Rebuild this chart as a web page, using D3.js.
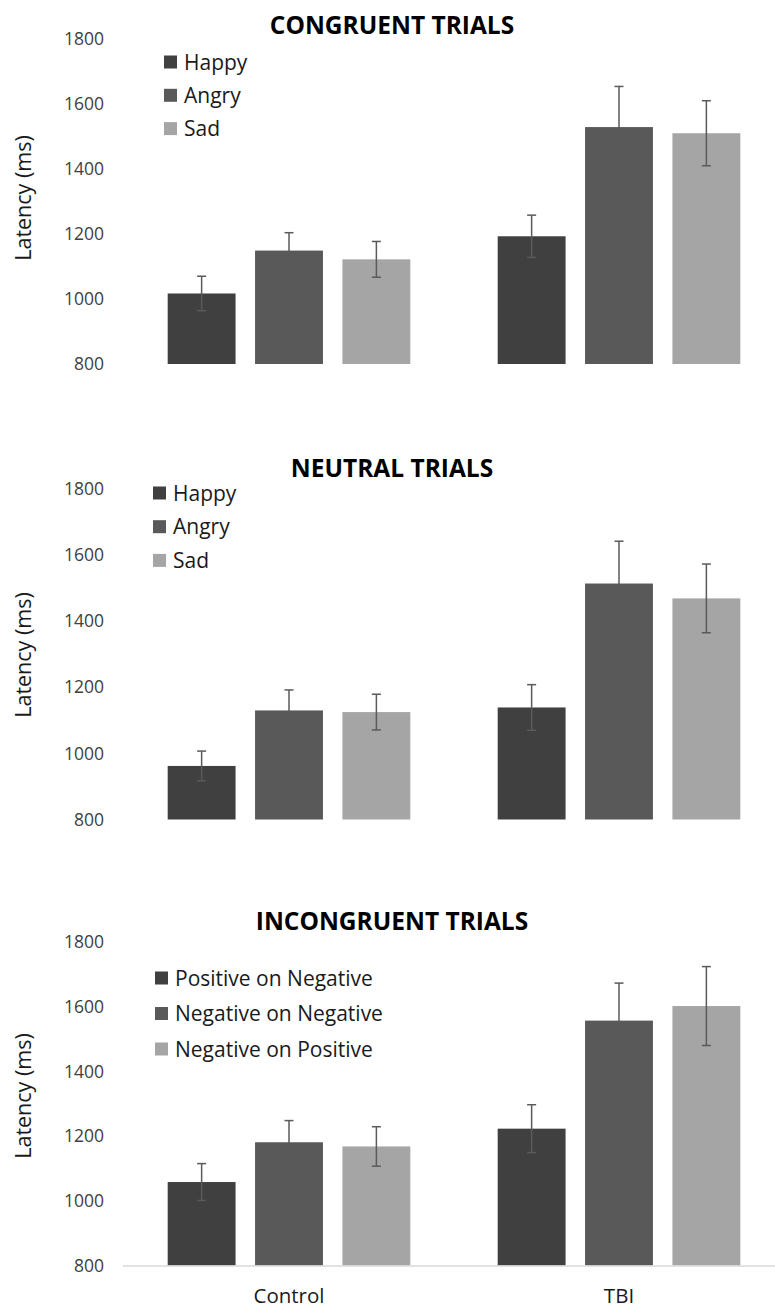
<!DOCTYPE html>
<html>
<head>
<meta charset="utf-8">
<script src="https://cdn.jsdelivr.net/npm/d3@7"></script>
<style>
  body { margin: 0; background: #fff; }
  text { font-family: "Open Sans", sans-serif; }
</style>
</head>
<body>
<div id="chart"></div>
<script>
// data (ms)
var groups = ["Control", "TBI"];
var yTicks = [800, 1000, 1200, 1400, 1600, 1800];

var congruentTitle = "CONGRUENT TRIALS";
var congruentSeries = ["Happy", "Angry", "Sad"];
var congruentMeans = [[1017, 1149, 1122], [1193, 1529, 1510]];
var congruentErr = [[53, 55, 55], [65, 125, 100]];

var neutralTitle = "NEUTRAL TRIALS";
var neutralSeries = ["Happy", "Angry", "Sad"];
var neutralMeans = [[962, 1130, 1125], [1139, 1514, 1469]];
var neutralErr = [[45, 62, 54], [69, 128, 104]];

var incongruentTitle = "INCONGRUENT TRIALS";
var incongruentSeries = ["Positive on Negative", "Negative on Negative", "Negative on Positive"];
var incongruentMeans = [[1058, 1181, 1168], [1223, 1557, 1602]];
var incongruentErr = [[57, 67, 61], [74, 116, 122]];

var colors = ["#404040", "#595959", "#a5a5a5"];

var width = 775, height = 1308;
var svg = d3.select("#chart").append("svg")
    .attr("width", width)
    .attr("height", height);

// one entry per panel, layout kept here
var panels = [
  {title: congruentTitle, series: congruentSeries, means: congruentMeans, err: congruentErr,
   y0: 364, y1: 39, titleY: 34, labelY: 198, legX: 164, legY: 62, rowH: 33.3, axisLine: false},
  {title: neutralTitle, series: neutralSeries, means: neutralMeans, err: neutralErr,
   y0: 819.5, y1: 489, titleY: 477, labelY: 655, legX: 153, legY: 493, rowH: 33.7, axisLine: false},
  {title: incongruentTitle, series: incongruentSeries, means: incongruentMeans, err: incongruentErr,
   y0: 1265.5, y1: 942, titleY: 930, labelY: 1096, legX: 155, legY: 978, rowH: 35.5, axisLine: true}
];

var x0 = d3.scaleBand().domain(groups).range([124, 784]).padding(0);

panels.forEach(function(p) {
    var g = svg.append("g");

    var x1 = d3.scaleBand().domain(p.series).range([0, x0.bandwidth()])
        .paddingInner(0.223).paddingOuter(0.5);
    var y = d3.scaleLinear().domain([800, 1800]).range([p.y0, p.y1]);

    // y axis labels
    var ax = g.append("g")
        .attr("transform", "translate(124,0)")
        .call(d3.axisLeft(y).tickValues(yTicks).tickSize(0).tickPadding(20).tickFormat(d3.format("d")));
    ax.select(".domain").remove();
    ax.selectAll("text")
        .style("font-family", "'Open Sans', sans-serif")
        .style("font-size", "17.5px")
        .attr("fill", "#404040");

    g.append("text")
        .attr("transform", "translate(31," + p.labelY + ") rotate(-90)")
        .attr("text-anchor", "middle")
        .attr("font-size", 21.5)
        .attr("fill", "#1a1a1a")
        .text("Latency (ms)");

    // title
    g.append("text")
        .attr("x", 392)
        .attr("y", p.titleY)
        .attr("text-anchor", "middle")
        .attr("font-size", 24.5)
        .attr("font-weight", "bold")
        .attr("fill", "#000")
        .text(p.title);

    // bars
    groups.forEach(function(grp, gi) {
        var gg = g.append("g").attr("transform", "translate(" + x0(grp) + ",0)");
        gg.selectAll("rect")
            .data(p.series)
            .join("rect")
            .attr("x", function(s) { return x1(s); })
            .attr("y", function(s, i) { return y(p.means[gi][i]); })
            .attr("width", x1.bandwidth())
            .attr("height", function(s, i) { return y(800) - y(p.means[gi][i]); })
            .attr("fill", function(s, i) { return colors[i]; });

        // error bars
        var eb = gg.selectAll("g.err")
            .data(p.series)
            .join("g")
            .attr("class", "err")
            .attr("stroke", "#5a5a5a")
            .attr("stroke-width", 1.5);
        eb.append("line")
            .attr("x1", function(s) { return x1(s) + x1.bandwidth() / 2; })
            .attr("x2", function(s) { return x1(s) + x1.bandwidth() / 2; })
            .attr("y1", function(s, i) { return y(p.means[gi][i] - p.err[gi][i]); })
            .attr("y2", function(s, i) { return y(p.means[gi][i] + p.err[gi][i]); });
        [1, -1].forEach(function(sign) {
            eb.append("line")
                .attr("x1", function(s) { return x1(s) + x1.bandwidth() / 2 - 4.5; })
                .attr("x2", function(s) { return x1(s) + x1.bandwidth() / 2 + 4.5; })
                .attr("y1", function(s, i) { return y(p.means[gi][i] + sign * p.err[gi][i]); })
                .attr("y2", function(s, i) { return y(p.means[gi][i] + sign * p.err[gi][i]); });
        });
    });

    // legend
    var leg = g.selectAll("g.leg")
        .data(p.series)
        .join("g")
        .attr("class", "leg")
        .attr("transform", function(s, i) { return "translate(" + p.legX + "," + (p.legY + i * p.rowH) + ")"; });
    leg.append("rect")
        .attr("x", 0).attr("y", -6.5)
        .attr("width", 13).attr("height", 13)
        .attr("fill", function(s, i) { return colors[i]; });
    leg.append("text")
        .attr("x", 20)
        .attr("y", 7.5)
        .attr("font-size", 21)
        .attr("fill", "#1a1a1a")
        .text(function(s) { return s; });

    if (p.axisLine) {
        g.append("line")
            .attr("x1", 123).attr("x2", 775)
            .attr("y1", p.y0 + 0.5).attr("y2", p.y0 + 0.5)
            .attr("stroke", "#d9d9d9")
            .attr("stroke-width", 1.5);
        g.selectAll("text.cat")
            .data(groups)
            .join("text")
            .attr("class", "cat")
            .attr("x", function(d) { return x0(d) + x0.bandwidth() / 2; })
            .attr("y", 1303)
            .attr("text-anchor", "middle")
            .attr("font-size", 20.5)
            .attr("fill", "#1a1a1a")
            .text(function(d) { return d; });
    }
});
</script>
</body>
</html>
